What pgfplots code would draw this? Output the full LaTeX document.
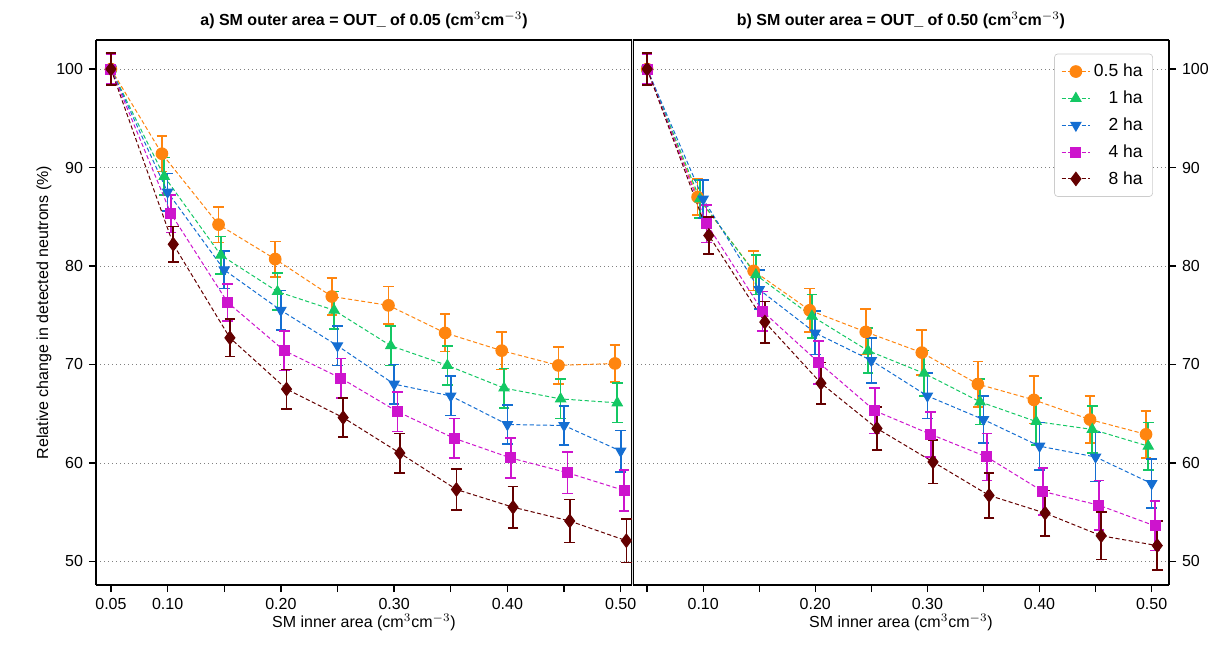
\documentclass[border=0pt]{standalone}
\usepackage{pgfplots}
\pgfplotsset{compat=1.18}
\usepackage{fontspec}
\setmainfont{Liberation Sans}
\definecolor{cO}{RGB}{255,133,15}
\definecolor{cG}{RGB}{20,200,100}
\definecolor{cB}{RGB}{20,110,210}
\definecolor{cM}{RGB}{205,20,205}
\definecolor{cR}{RGB}{100,0,0}
\begin{document}
\begin{tikzpicture}
\path[use as bounding box] (0pt,0pt) rectangle (738pt,390.6pt);
\pgfplotsset{
  base/.style={
    scale only axis, width=321.6pt, height=327pt,
    ymin=47.6, ymax=102.95,
    ytick={50,60,70,80,90,100},
    xtick={0.05,0.10,0.15,0.20,0.25,0.30,0.35,0.40,0.45,0.50},
    tick align=outside, tick style={black, thick},
    ymajorgrids, grid style={gray, dotted, thin},
    axis line style={thick},
    tick label style={font=\fontsize{9.6}{11}\selectfont},
    /pgf/number format/assume math mode=true,
    label style={font=\fontsize{9.6}{11}\selectfont},
    title style={font=\bfseries\fontsize{9.6}{11}\selectfont, yshift=-3pt},
    xlabel={SM inner area (cm$^{3}$cm$^{-3}$)},
    xlabel style={yshift=4pt},
    every axis plot/.append style={dash pattern=on 2.5pt off 1.5pt, line width=0.6pt, mark size=3.5pt,
      error bars/y dir=both, error bars/y explicit,
      error bars/error mark options={rotate=90, mark size=3.2pt, solid, line width=1pt},
      error bars/error bar style={solid, line width=1pt}},
  },
  sO/.style={color=cO, mark=*, mark options={solid, fill=cO}},
  sG/.style={color=cG, mark=triangle*, mark options={solid, fill=cG}},
  sB/.style={color=cB, mark=triangle*, mark options={solid, fill=cB, rotate=180}},
  sM/.style={color=cM, mark=square*, mark options={solid, fill=cM}, mark size=3pt},
  sR/.style={color=cR, mark=diamond*, mark options={solid, fill=cR}, mark size=4pt},
}
\begin{axis}[base, at={(57.6pt,39.6pt)}, anchor=south west,
  xmin=0.0368, xmax=0.51,
  xticklabels={0.05,0.10,,0.20,,0.30,,0.40,,0.50},
  ylabel={Relative change in detected neutrons (\%)},
  ylabel style={yshift=-4pt},
  axis y line*=left, axis x line*=bottom,
  title={a) SM outer area = OUT\_ of 0.05 (cm$^{3}$cm$^{-3}$)}]
\draw[thick] (rel axis cs:0,1) -- (rel axis cs:1,1) -- (rel axis cs:1,0);
\addplot[sO] coordinates {(0.05,100)+-(0,1.5) (0.095,91.4)+-(0,1.8) (0.145,84.2)+-(0,1.8) (0.195,80.7)+-(0,1.8) (0.245,76.9)+-(0,1.9) (0.295,76.0)+-(0,1.9) (0.345,73.2)+-(0,1.9) (0.395,71.4)+-(0,1.9) (0.445,69.9)+-(0,1.9) (0.495,70.1)+-(0,1.9)};
\addplot[sG] coordinates {(0.05,100)+-(0,1.5) (0.097,89.1)+-(0,1.9) (0.147,81.1)+-(0,1.9) (0.197,77.4)+-(0,1.9) (0.247,75.5)+-(0,1.9) (0.297,71.9)+-(0,2.0) (0.347,69.9)+-(0,2.0) (0.397,67.6)+-(0,2.0) (0.447,66.5)+-(0,2.0) (0.497,66.1)+-(0,2.0)};
\addplot[sB] coordinates {(0.05,100)+-(0,1.5) (0.10,87.5)+-(0,1.9) (0.15,79.6)+-(0,1.9) (0.20,75.5)+-(0,2.0) (0.25,71.9)+-(0,2.0) (0.30,68.0)+-(0,2.0) (0.35,66.8)+-(0,2.0) (0.40,63.9)+-(0,2.0) (0.45,63.8)+-(0,2.0) (0.50,61.2)+-(0,2.1)};
\addplot[sM] coordinates {(0.05,100)+-(0,1.5) (0.103,85.3)+-(0,1.9) (0.153,76.3)+-(0,1.9) (0.203,71.4)+-(0,2.0) (0.253,68.6)+-(0,2.0) (0.303,65.2)+-(0,2.0) (0.353,62.5)+-(0,2.0) (0.403,60.5)+-(0,2.0) (0.453,59.0)+-(0,2.1) (0.503,57.2)+-(0,2.1)};
\addplot[sR] coordinates {(0.05,100)+-(0,1.6) (0.105,82.2)+-(0,1.8) (0.155,72.7)+-(0,1.9) (0.205,67.5)+-(0,2.0) (0.255,64.6)+-(0,2.0) (0.305,61.0)+-(0,2.0) (0.355,57.3)+-(0,2.1) (0.405,55.5)+-(0,2.1) (0.455,54.1)+-(0,2.2) (0.505,52.1)+-(0,2.2)};
\end{axis}
\begin{axis}[base, at={(379.8pt,39.6pt)}, anchor=south west,
  xmin=0.0374, xmax=0.5155,
  xticklabels={,0.10,,0.20,,0.30,,0.40,,0.50},
  axis y line*=right, axis x line*=bottom,
  title={b) SM outer area = OUT\_ of 0.50 (cm$^{3}$cm$^{-3}$)},
  legend style={at={(0.97,0.975)}, anchor=north east, draw=gray!40, rounded corners=2pt,
    font=\fontsize{10.5}{12}\selectfont, row sep=3pt, inner sep=4pt},
  legend cell align=right]
\draw[thick] (rel axis cs:0,0) -- (rel axis cs:0,1) -- (rel axis cs:1,1);
\addplot[sO] coordinates {(0.05,100)+-(0,1.5) (0.095,87.0)+-(0,1.8) (0.145,79.5)+-(0,2.0) (0.195,75.5)+-(0,2.2) (0.245,73.3)+-(0,2.3) (0.295,71.2)+-(0,2.3) (0.345,68.0)+-(0,2.3) (0.395,66.4)+-(0,2.4) (0.445,64.4)+-(0,2.4) (0.495,62.9)+-(0,2.4)};
\addplot[sG] coordinates {(0.05,100)+-(0,1.5) (0.097,86.8)+-(0,1.9) (0.147,79.1)+-(0,2.0) (0.197,74.9)+-(0,2.2) (0.247,71.4)+-(0,2.3) (0.297,69.1)+-(0,2.3) (0.347,66.2)+-(0,2.3) (0.397,64.2)+-(0,2.4) (0.447,63.4)+-(0,2.4) (0.497,61.7)+-(0,2.4)};
\addplot[sB] coordinates {(0.05,100)+-(0,1.5) (0.10,86.8)+-(0,1.9) (0.15,77.6)+-(0,2.0) (0.20,73.2)+-(0,2.2) (0.25,70.4)+-(0,2.3) (0.30,66.8)+-(0,2.3) (0.35,64.4)+-(0,2.4) (0.40,61.7)+-(0,2.4) (0.45,60.6)+-(0,2.5) (0.50,57.9)+-(0,2.5)};
\addplot[sM] coordinates {(0.05,100)+-(0,1.5) (0.103,84.3)+-(0,1.9) (0.153,75.4)+-(0,2.0) (0.203,70.2)+-(0,2.2) (0.253,65.3)+-(0,2.3) (0.303,62.9)+-(0,2.3) (0.353,60.6)+-(0,2.4) (0.403,57.1)+-(0,2.4) (0.453,55.7)+-(0,2.5) (0.503,53.6)+-(0,2.5)};
\addplot[sR] coordinates {(0.05,100)+-(0,1.6) (0.105,83.1)+-(0,1.9) (0.155,74.3)+-(0,2.1) (0.205,68.1)+-(0,2.1) (0.255,63.5)+-(0,2.2) (0.305,60.1)+-(0,2.2) (0.355,56.7)+-(0,2.3) (0.405,54.9)+-(0,2.3) (0.455,52.6)+-(0,2.4) (0.505,51.6)+-(0,2.5)};
\legend{0.5 ha,1 ha,2 ha,4 ha,8 ha}
\end{axis}
\end{tikzpicture}
\end{document}
